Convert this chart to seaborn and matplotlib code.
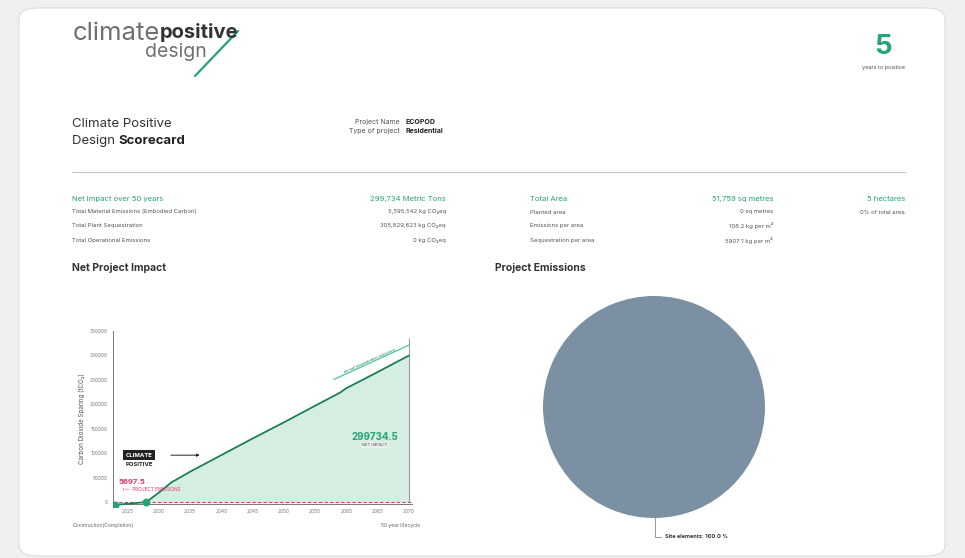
import matplotlib
matplotlib.use("Agg")
import matplotlib.pyplot as plt
from matplotlib.patches import FancyBboxPatch
from matplotlib.lines import Line2D
import seaborn as sns
import pandas as pd

project_name = "ECOPOD"
project_type = "Residential"
years_to_positive = 5

impact_labels = ["Total Material Emissions (Embodied Carbon)", "Total Plant Sequestration",
                 "Total Operational Emissions"]
impact_values = ["5,595,542 kg CO\u2082eq", "305,829,623 kg CO\u2082eq", "0 kg CO\u2082eq"]
area_labels = ["Planted area", "Emissions per area", "Sequestration per area"]
area_values = ["0 sq metres", "108.2 kg per m\u00b2", "5907.1 kg per m\u00b2"]

years = [2023, 2025, 2028, 2030, 2032, 2035, 2040, 2045, 2050, 2055, 2059, 2060, 2065, 2070]
net_impact = [-5697.5, -3400, 0, 19000, 40000, 62000, 96000, 130000, 163000, 197000,
              224000, 233000, 266000, 299734.5]
seq_years = [2058, 2070]
seq_values = [251000, 321000]
y_ticks = [0, 50000, 100000, 150000, 200000, 250000, 300000, 350000]
x_ticks = [2025, 2030, 2035, 2040, 2045, 2050, 2055, 2060, 2065, 2070]

pie_labels = ["Site elements"]
pie_values = [100.0]

GREEN = "#23a574"
DARK_GREEN = "#1b7f57"
PINK = "#e8336b"
W, H = 965, 558

sns.set_theme(style="white")
plt.rcParams['font.family'] = ['Inter', 'DejaVu Sans']

fig = plt.figure(figsize=(W / 100, H / 100), dpi=100, facecolor="#f0f0f0")


def fx(x):
    return x / W


def fy(y):
    return 1 - y / H


# white card behind everything
card = FancyBboxPatch((fx(19), fy(556)), fx(945) - fx(19), fy(8) - fy(556),
                      boxstyle="round,pad=0,rounding_size=0.02", transform=fig.transFigure,
                      facecolor="white", edgecolor="#dcdcdc", lw=0.8, zorder=-5)
fig.patches.append(card)

# logo
fig.text(fx(160), fy(33), "climate", fontsize=18.5, color="#707070", va="center", ha="right")
fig.text(fx(160), fy(33), "positive", fontsize=14.5, color="#333333", weight="bold",
         va="center", ha="left")
fig.text(fx(207), fy(52), "design", fontsize=14, color="#707070", va="center", ha="right")
fig.lines.append(Line2D([fx(195), fx(238)], [fy(76), fy(31)], transform=fig.transFigure,
                        color=GREEN, lw=1.6))

# years to positive
fig.text(fx(883), fy(47), str(years_to_positive), fontsize=20, weight="bold", color=GREEN,
         ha="center", va="center")
fig.text(fx(883), fy(68), "years to positive", fontsize=4, color="#555555", ha="center",
         va="center")

# title + project info
fig.text(fx(72), fy(124), "Climate Positive", fontsize=9.5, color="#333333", va="center")
fig.text(fx(72), fy(141), "Design ", fontsize=9.5, color="#333333", va="center")
fig.text(fx(118), fy(141), "Scorecard", fontsize=9.5, color="#222222", weight="bold",
         va="center")
fig.text(fx(400), fy(122), "Project Name", fontsize=5, color="#555555", ha="right", va="center")
fig.text(fx(405), fy(122), project_name, fontsize=5, color="#222222", weight="bold", va="center")
fig.text(fx(400), fy(131), "Type of project", fontsize=5, color="#555555", ha="right",
         va="center")
fig.text(fx(405), fy(131), project_type, fontsize=5, color="#222222", weight="bold",
         va="center")
fig.lines.append(Line2D([fx(72), fx(905)], [fy(172), fy(172)], transform=fig.transFigure,
                        color="#c8c8c8", lw=0.8))

# stats block
fig.text(fx(72), fy(199), "Net Impact over 50 years", fontsize=5.5, color=GREEN, va="center")
fig.text(fx(446), fy(199), "299,734 Metric Tons", fontsize=5.5, color=GREEN, va="center",
         ha="right")
fig.text(fx(530), fy(199), "Total Area", fontsize=5.5, color=GREEN, va="center")
fig.text(fx(773), fy(199), "51,759 sq metres", fontsize=5.5, color=GREEN, va="center", ha="right")
fig.text(fx(905), fy(199), "5 hectares", fontsize=5.5, color=GREEN, va="center", ha="right")
fig.text(fx(905), fy(212), "0% of total area", fontsize=4.3, color="#555555", va="center",
         ha="right")
for i, (lab, val) in enumerate(zip(impact_labels, impact_values)):
    yy = 212 + 14 * i
    fig.text(fx(72), fy(yy), lab, fontsize=4.3, color="#555555", va="center")
    fig.text(fx(446), fy(yy), val, fontsize=4.3, color="#555555", va="center", ha="right")
for i, (lab, val) in enumerate(zip(area_labels, area_values)):
    yy = 212 + 14 * i
    fig.text(fx(530), fy(yy), lab, fontsize=4.3, color="#555555", va="center")
    fig.text(fx(773), fy(yy), val, fontsize=4.3, color="#555555", va="center", ha="right")

fig.text(fx(72), fy(268), "Net Project Impact", fontsize=7.5, weight="bold", color="#333333",
         va="center")
fig.text(fx(495), fy(268), "Project Emissions", fontsize=7.5, weight="bold", color="#333333",
         va="center")

# ---- net project impact chart ----
ax = fig.add_axes([fx(113), fy(507), fx(412) - fx(113), fy(331) - fy(507)])
df = pd.DataFrame({"year": years, "impact": net_impact})
pos = df[df["impact"] >= 0]
ax.fill_between(pos["year"], pos["impact"], 0, color="#d6eee2", lw=0, zorder=1)
sns.lineplot(data=df, x="year", y="impact", ax=ax, color=DARK_GREEN, lw=1.3, zorder=3)
sns.lineplot(x=seq_years, y=seq_values, ax=ax, color="#5cc79c", lw=1.0, zorder=3)
ax.text(2059.5, 262000, "annual sequestration trajectory", fontsize=2.8, color=DARK_GREEN,
        rotation=24, ha="left", va="bottom")
ax.axhline(0, color=PINK, lw=0.8, ls=(0, (3, 2)), zorder=2)
ax.vlines(2070, 0, 335000, color="#9a9a9a", lw=0.8, zorder=2)
ax.scatter([years[0], years[2]], [net_impact[0], net_impact[2]], s=22, color=GREEN, zorder=5)

ax.set_xlim(2022.7, 2070.5)
ax.set_ylim(-10000, 350000)
ax.set_xticks(x_ticks)
ax.set_xticklabels([str(t) for t in x_ticks])
ax.set_yticks(y_ticks)
ax.set_yticklabels([str(t) for t in y_ticks])
ax.tick_params(labelsize=3.5, colors="#777777", length=2, width=0.6, pad=2)
ax.set_xlabel("")
ax.set_ylabel("Carbon Dioxide Sparing (tCO\u2082)", fontsize=4.5, color="#555555", labelpad=3)
for s in ["top", "right"]:
    ax.spines[s].set_visible(False)
ax.spines["left"].set_color("#777777")
ax.spines["left"].set_linewidth(0.7)
ax.spines["bottom"].set_color("#777777")
ax.spines["bottom"].set_linewidth(0.7)
ax.spines["bottom"].set_position(("data", -3000))
ax.patch.set_alpha(0)

ax.text(2024.7, 96000, "CLIMATE", fontsize=4.3, color="white", weight="bold", va="center",
        bbox=dict(boxstyle="square,pad=0.4", fc="#222222", ec="none"))
ax.text(2024.7, 76000, "POSITIVE", fontsize=4.3, color="#222222", weight="bold", va="center")
ax.annotate("", xy=(2037, 96000), xytext=(2031.5, 96000),
            arrowprops=dict(arrowstyle="-|>", color="#222222", lw=0.7, mutation_scale=4))
ax.text(2023.6, 41000, f"{-net_impact[0]:.1f}", fontsize=5.5, color=PINK, weight="bold",
        va="center")
ax.text(2024.2, 25000, "t \u2014  PROJECT EMISSIONS", fontsize=3.4, color=PINK, va="center")
ax.text(2060.9, 133000, f"{net_impact[-1]:.1f}", fontsize=7, color=GREEN, weight="bold",
        va="center")
ax.text(2066.5, 131000, "t", fontsize=3, color=GREEN, va="center")
ax.text(2062.5, 117000, "NET IMPACT", fontsize=3, color="#555555", va="center",
        bbox=dict(boxstyle="square,pad=0.3", fc="#e9efeb", ec="none"))

fig.text(fx(73), fy(526), "Construction(Completion)", fontsize=3.6, color="#666666", va="center")
fig.text(fx(420), fy(526), "50 year lifecycle", fontsize=3.6, color="#666666", va="center",
         ha="right")

# ---- project emissions pie ----
pax = fig.add_axes([fx(543), fy(518), fx(765) - fx(543), fy(296) - fy(518)])
pax.pie(pie_values, colors=["#7b90a2"], startangle=90, counterclock=False,
        wedgeprops=dict(lw=0))
pax.set_xlim(-1, 1)
pax.set_ylim(-1, 1)
pax.set_aspect("equal")
fig.lines.append(Line2D([fx(655), fx(655), fx(661)], [fy(516), fy(537), fy(537)],
                        transform=fig.transFigure, color="#888888", lw=0.6))
fig.text(fx(665), fy(537), f"{pie_labels[0]}: {pie_values[0]:.1f} %", fontsize=4, color="#333333",
         weight="bold", va="center")

fig.savefig("out.png", dpi=100, facecolor=fig.get_facecolor())
